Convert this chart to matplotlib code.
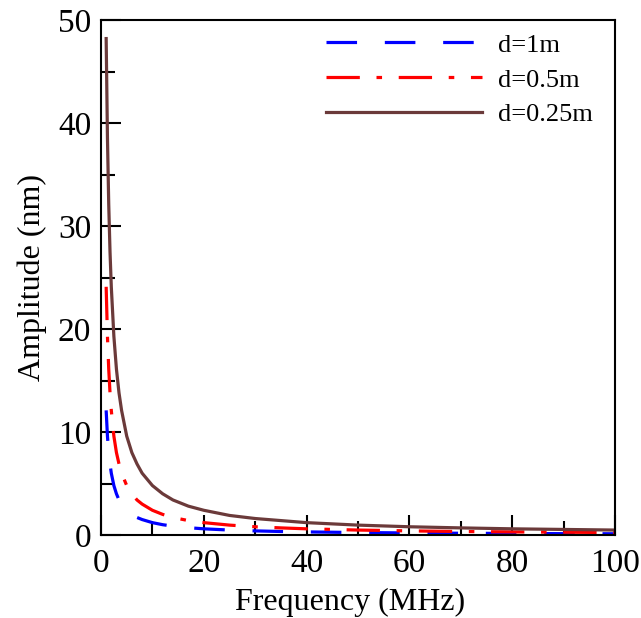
import matplotlib
matplotlib.use('Agg')
import matplotlib.pyplot as plt
from matplotlib.ticker import MultipleLocator

plt.rcParams['font.family'] = ['Liberation Serif', 'DejaVu Serif']
plt.rcParams['lines.scale_dashes'] = False

# values
freq = [1, 1.25, 1.5, 1.75, 2, 2.5, 3, 3.5, 4, 5, 6, 7, 8, 10, 12, 14, 17, 20,
        25, 30, 35, 40, 50, 60, 70, 80, 90, 100]
amp_025 = [48.2, 38.6, 32.1, 27.5, 24.1, 19.3, 16.1, 13.8, 12.1, 9.6, 8.0, 6.9, 6.0,
           4.8, 4.0, 3.4, 2.8, 2.4, 1.9, 1.6, 1.4, 1.2, 0.96, 0.80, 0.69, 0.60, 0.54, 0.48]
amp_05 = [24.1, 19.3, 16.1, 13.8, 12.1, 9.6, 8.0, 6.9, 6.0, 4.8, 4.0, 3.4, 3.0,
          2.4, 2.0, 1.7, 1.4, 1.2, 0.96, 0.80, 0.69, 0.60, 0.48, 0.40, 0.34, 0.30, 0.27, 0.24]
amp_1 = [12.1, 9.6, 8.0, 6.9, 6.0, 4.8, 4.0, 3.4, 3.0, 2.4, 2.0, 1.7, 1.5,
         1.2, 1.0, 0.86, 0.71, 0.60, 0.48, 0.40, 0.34, 0.30, 0.24, 0.20, 0.17, 0.15, 0.13, 0.12]

fig = plt.figure(figsize=(6.41, 6.18), dpi=100)
ax = fig.add_axes([0.1576, 0.1343, 0.8018, 0.8333])

ax.plot(freq, amp_1, color='#0000ff', lw=2.3, linestyle=(0, (22, 20)), label='d=1m')
ax.plot(freq, amp_05, color='#ff0000', lw=2.3, linestyle=(0, (24, 12, 4, 12)), label='d=0.5m')
ax.plot(freq, amp_025, color='#6b3a3a', lw=2.3, label='d=0.25m')

ax.set_xlim(0, 100)
ax.set_ylim(0, 50)
ax.xaxis.set_major_locator(MultipleLocator(20))
ax.xaxis.set_minor_locator(MultipleLocator(10))
ax.yaxis.set_major_locator(MultipleLocator(10))
ax.yaxis.set_minor_locator(MultipleLocator(5))
ax.tick_params(which='both', direction='in', width=1.5, labelsize=24)
ax.tick_params(axis='x', pad=10)
ax.tick_params(axis='y', pad=7)
ax.tick_params(which='major', length=14.4)
ax.tick_params(which='minor', length=10)
for s in ax.spines.values():
    s.set_linewidth(1.5)

ax.set_xlabel('Frequency (MHz)', fontsize=23, labelpad=2)
ax.xaxis.set_label_coords(0.485, -0.102)
ax.set_ylabel('Amplitude (nm)', fontsize=23, labelpad=8)

ax.legend(loc='upper left', bbox_to_anchor=(0.413, 1.0), frameon=False, fontsize=19,
          handlelength=5.9, handletextpad=0.6, labelspacing=0.43, borderaxespad=0,
          borderpad=0.5)

fig.savefig('out.png', dpi=100)
